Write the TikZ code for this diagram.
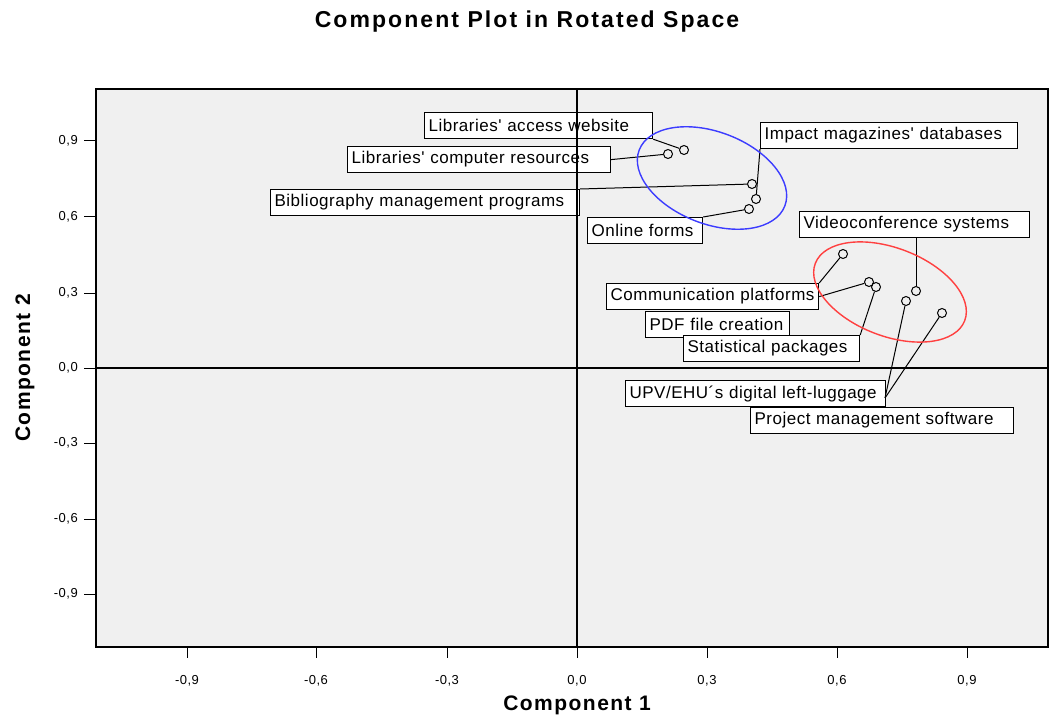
\documentclass[tikz,border=0pt]{standalone}
\usepackage{fontspec}
\setmainfont{Liberation Sans}
\newfontfamily\lblfont[LetterSpace=3]{Liberation Sans}
\newfontfamily\tickfont[LetterSpace=4]{Liberation Sans}
\newfontfamily\titlefont[LetterSpace=9]{Liberation Sans}
\newfontfamily\axfont[LetterSpace=7]{Liberation Sans}
\definecolor{plotbg}{HTML}{F0F0F0}
\definecolor{ellblue}{HTML}{3C3CFF}
\definecolor{ellred}{HTML}{FF4040}
\begin{document}
\begin{tikzpicture}[x=1pt,y=-1pt,
  lbl/.style={draw=black, line width=1.2pt, fill=white, font=\lblfont\fontsize{17}{19}\selectfont, minimum height=26pt, inner ysep=0pt, inner xsep=4pt, align=left, anchor=north west},
  pt/.style={circle, draw=black, line width=1pt, minimum size=9pt, inner sep=0pt},
  lead/.style={draw=black, line width=1pt},
  frame/.style={draw=black, line width=1.4pt},
  zero/.style={draw=black, line width=1.1pt},
  tick/.style={draw=black, line width=1pt},
  ticklbl/.style={font=\tickfont\fontsize{13}{15}\selectfont, inner sep=0pt},
  axlbl/.style={font=\axfont\bfseries\fontsize{21}{23}\selectfont, inner sep=0pt},
  ell/.style={line width=1.4pt}
]
\useasboundingbox (0,0) rectangle (1049,722);
\fill[white] (0,0) rectangle (1049,722);
% title
\node[font=\titlefont\bfseries\fontsize{23}{26}\selectfont, inner sep=0pt] (title) at (527,22) {Component Plot in Rotated Space};
% plot area
\fill[plotbg] (96,89) rectangle (1048,647);
\draw[zero] (96,368) -- (1048,368);
% ticks
\foreach \px/\t [count=\i] in {187/{-0,9},316/{-0,6},447/{-0,3},577/{0,0},707/{0,3},837/{0,6},967/{0,9}}{
  \draw[tick] (\px,647) -- (\px,658);
  \node[ticklbl] (xt\i) at (\px,681) {\t};
}
\foreach \py/\t [count=\i] in {141/{0,9},217/{0,6},293/{0,3},368/{0,0},443/{-0,3},519/{-0,6},594/{-0,9}}{
  \draw[tick] (84,\py) -- (96,\py);
  \node[ticklbl, anchor=east] (yt\i) at (78,\py) {\t};
}
\node[axlbl] (xlab) at (577,705) {Component 1};
\node[axlbl, rotate=90] (ylab) at (25,368) {Component 2};
% points
\node[pt] (law) at (684,150) {};
\node[pt] (lcr) at (668,154) {};
\node[pt] (bib) at (752,184) {};
\node[pt] (imd) at (756,199) {};
\node[pt] (onl) at (749,209) {};
\node[pt] (pa) at (843,254) {};
\node[pt] (pb) at (869,282) {};
\node[pt] (pc) at (876,287) {};
\node[pt] (vcs) at (916,291) {};
\node[pt] (upv) at (906,301) {};
\node[pt] (pms) at (942,313) {};
% labels
\node[lbl, text width=220pt] (Llaw) at (424,112) {Libraries' access website};
\node[lbl, text width=255pt] (Llcr) at (347,146) {Libraries' computer resources};
\node[lbl, text width=249pt] (Limd) at (760,122) {Impact magazines' databases};
\node[lbl, text width=301pt] (Lbib) at (270,189) {Bibliography management programs};
\node[lbl, text width=107pt] (Lonl) at (587,217) {Online forms};
\node[lbl, text width=222pt] (Lvcs) at (799,211) {Videoconference systems};
\node[lbl, text width=204pt] (Lcom) at (606,283) {Communication platforms};
\node[lbl, text width=136pt] (Lpdf) at (645,311) {PDF file creation};
\node[lbl, text width=168pt] (Lsta) at (683,335) {Statistical packages};
\node[lbl, text width=252pt] (Lupv) at (625,380) {UPV/EHU´s digital left-luggage};
\node[lbl, text width=255pt] (Lpms) at (750,407) {Project management software};
\coordinate (upvc) at (885,398);
% leader lines
\draw[lead] (Llaw.south east) -- (law);
\draw[lead] (Llcr.east) -- (lcr);
\draw[lead] (Lbib.north east) -- (bib);
\draw[lead] (Limd.south west) -- (imd);
\draw[lead] (Lonl.north east) -- (onl);
\draw[lead] (vcs |- Lvcs.south) -- (vcs);
\draw[lead] (Lcom.north east) -- (pa);
\draw[lead] (Lcom.east) -- (pb);
\draw[lead] (Lsta.north east) -- (pc);
\draw[lead] (upvc) -- (upv);
\draw[lead] (upvc) -- (pms);
% vertical zero line and frame on top
\draw[zero] (577,89) -- (577,647);
\draw[frame] (96,89) rectangle (1048,647);
% ellipses
\draw[ell, draw=ellblue, rotate around={-21:(712,178)}] (712,178) ellipse [x radius=78pt, y radius=46pt];
\draw[ell, draw=ellred, rotate around={-21:(890,292)}] (890,292) ellipse [x radius=80pt, y radius=44pt];
\end{tikzpicture}
\end{document}
